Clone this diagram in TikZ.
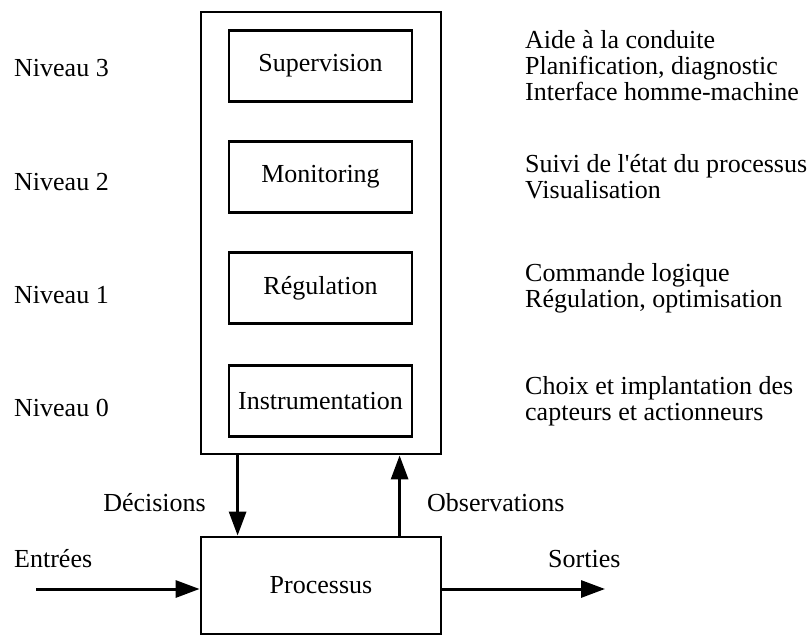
\documentclass[tikz,border=0pt]{standalone}
\usepackage{fontspec}
\setmainfont{Liberation Serif}
\usetikzlibrary{arrows.meta}
\begin{document}
\begin{tikzpicture}[x=1pt,y=-1pt,
  every node/.style={font=\fontsize{26}{26}\selectfont, inner sep=0pt},
  box/.style={draw, line width=2.8pt, minimum width=183pt, minimum height=71pt},
  bigbox/.style={draw, line width=2.8pt, minimum width=240pt},
  arr/.style={line width=3pt, -{Triangle[length=24pt,width=17pt]}},
  lbl/.style={anchor=base west},
  desc/.style={anchor=west, align=left}]
\useasboundingbox (0,0) rectangle (812,635);
\node[bigbox, minimum height=442pt] (big) at (321,233) {};
\node[box] (sup) at (320.5,66) {Supervision};
\node[box] (mon) at (320.5,177) {Monitoring};
\node[box] (reg) at (320.5,288) {Régulation};
\node[box] (ins) at (320.5,401) {Instrumentation};
\node[bigbox, minimum height=97pt] (proc) at (321,585.5) {Processus};
\node[lbl] (n3) at (14,76) {Niveau 3};
\node[lbl] (n2) at (14,190) {Niveau 2};
\node[lbl] (n1) at (14,303) {Niveau 1};
\node[lbl] (n0) at (14,416) {Niveau 0};
\node[desc] (d3) at (525,66) {Aide à la conduite\\Planification, diagnostic\\Interface homme-machine};
\node[desc] (d2) at (525,177) {Suivi de l\textquotesingle état du processus\\Visualisation};
\node[desc] (d1) at (525,288) {Commande logique\\Régulation, optimisation};
\node[desc] (d0) at (525,401) {Choix et implantation des\\capteurs et actionneurs};
\node[anchor=base east] (dec) at (206,511) {Décisions};
\node[anchor=base west] (obs) at (427,511) {Observations};
\node[lbl] (ent) at (14,567) {Entrées};
\node[lbl] (sor) at (548,567) {Sorties};
\coordinate (in) at (36,589);
\coordinate (out) at (605,589);
\draw[arr] ([xshift=38pt]big.south west) -- ([xshift=38pt]proc.north west);
\draw[arr] ([xshift=200pt]proc.north west) -- ([xshift=200pt]big.south west);
\draw[arr] (in) -- (proc.west |- in);
\draw[arr] (proc.east |- out) -- (out);
\end{tikzpicture}
\end{document}
